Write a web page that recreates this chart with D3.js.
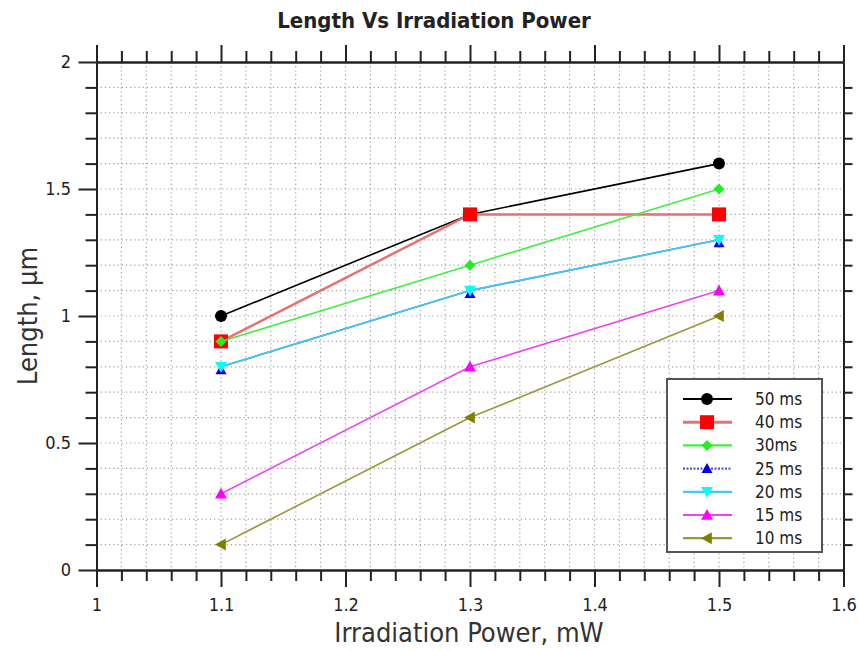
<!DOCTYPE html>
<html><head><meta charset="utf-8">
<script src="https://cdn.jsdelivr.net/npm/d3@7"></script>
<style>body{margin:0;background:#fff}svg{display:block}</style>
</head><body>
<svg id="c" width="859" height="651"></svg>
<script>
const xValues = [1.1, 1.3, 1.5];
const seriesNames = ["50 ms", "40 ms", "30ms", "25 ms", "20 ms", "15 ms", "10 ms"];
const s50 = [1.0, 1.4, 1.6];
const s40 = [0.9, 1.4, 1.4];
const s30 = [0.9, 1.2, 1.5];
const s25 = [0.8, 1.1, 1.3];
const s20 = [0.8, 1.1, 1.3];
const s15 = [0.3, 0.8, 1.1];
const s10 = [0.1, 0.6, 1.0];
const xTickLabels = ["1", "1.1", "1.2", "1.3", "1.4", "1.5", "1.6"];
const yTickLabels = ["0", "0.5", "1", "1.5", "2"];

const seriesValues = [s50, s40, s30, s25, s20, s15, s10];
const lineColors = ["#000000", "#e87070", "#44ee44", "#4a5ad8", "#44ccee", "#ee44ee", "#99993a"];
const markerColors = ["#000000", "#ff0000", "#22ee22", "#0000ee", "#00ffff", "#ff00ff", "#808000"];
const markerTypes = ["circle", "square", "diamond", "triUp", "triDown", "triUp", "triLeft"];

const svg = d3.select("#c");
const L = 96.5, R = 843.5, T = 62, B = 570;
const x = d3.scaleLinear().domain([1, 1.6]).range([L, R]);
const y = d3.scaleLinear().domain([0, 2]).range([B, T]);
const font = "'DejaVu Sans Condensed', 'DejaVu Sans', Verdana, sans-serif";

// grid
const xMinor = d3.range(1, 1.6001, 0.02).map(v => +v.toFixed(2));
const yMinor = d3.range(0, 2.0001, 0.1).map(v => +v.toFixed(1));
const g = svg.append("g");
g.selectAll("line.gx").data(xMinor.filter(v => v > 1 && v < 1.6)).join("line")
  .attr("x1", d => x(d)).attr("x2", d => x(d)).attr("y1", T).attr("y2", B)
  .attr("stroke", "#a0a0a0").attr("stroke-width", 1.2).attr("stroke-dasharray", "1.2,3");
g.selectAll("line.gy").data(yMinor.filter(v => v > 0 && v < 2)).join("line")
  .attr("y1", d => y(d)).attr("y2", d => y(d)).attr("x1", L).attr("x2", R)
  .attr("stroke", "#a0a0a0").attr("stroke-width", 1.2).attr("stroke-dasharray", "1.2,3");

// axes
function styleAxis(sel) {
  sel.selectAll("path").attr("stroke", "#222").attr("stroke-width", 2);
  sel.selectAll("line").attr("stroke", "#222").attr("stroke-width", 2);
  sel.selectAll("text").attr("font-family", font).attr("font-size", 18).attr("fill", "#222");
}
const xMajor = [1, 1.1, 1.2, 1.3, 1.4, 1.5, 1.6];
const yMajor = [0, 0.5, 1, 1.5, 2];
const xMinorOnly = xMinor.filter(v => !xMajor.some(m => Math.abs(m - v) < 1e-6));
const yMinorOnly = yMinor.filter(v => !yMajor.some(m => Math.abs(m - v) < 1e-6));

// bottom
const bx = svg.append("g").attr("transform", `translate(0,${B})`);
bx.call(d3.axisBottom(x).tickValues(xMajor).tickSize(17)
  .tickFormat((d, i) => xTickLabels[i]).tickSizeOuter(0));
bx.append("g").call(d3.axisBottom(x).tickValues(xMinorOnly).tickSize(11).tickFormat("").tickSizeOuter(0));
styleAxis(bx);
bx.selectAll("text").attr("y", 41).attr("dy", 0);
// top
const tx = svg.append("g").attr("transform", `translate(0,${T})`);
tx.call(d3.axisTop(x).tickValues(xMajor).tickSize(17).tickFormat("").tickSizeOuter(0));
tx.append("g").call(d3.axisTop(x).tickValues(xMinorOnly).tickSize(11).tickFormat("").tickSizeOuter(0));
styleAxis(tx);
// left
const ly = svg.append("g").attr("transform", `translate(${L},0)`);
ly.call(d3.axisLeft(y).tickValues(yMajor).tickSize(18).tickPadding(7.5)
  .tickFormat((d, i) => yTickLabels[i]).tickSizeOuter(0));
ly.append("g").call(d3.axisLeft(y).tickValues(yMinorOnly).tickSize(11).tickFormat("").tickSizeOuter(0));
styleAxis(ly);
// right
const ry = svg.append("g").attr("transform", `translate(${R},0)`);
ry.call(d3.axisRight(y).tickValues(yMajor).tickSize(0).tickFormat("").tickSizeOuter(0));
ry.append("g").call(d3.axisRight(y).tickValues(yMinorOnly).tickSize(9).tickFormat("").tickSizeOuter(0));
styleAxis(ry);

// markers
function marker(sel, type, color, s) {
  if (type === "circle") sel.append("circle").attr("r", s / 2).attr("fill", color);
  else if (type === "square") sel.append("rect").attr("x", -s / 2).attr("y", -s / 2)
    .attr("width", s).attr("height", s).attr("fill", color);
  else {
    let pts;
    const h = s / 2;
    if (type === "diamond") pts = [[0, -h], [h, 0], [0, h], [-h, 0]];
    if (type === "triUp") pts = [[0, -h], [h, h * 0.8], [-h, h * 0.8]];
    if (type === "triDown") pts = [[0, h], [h, -h * 0.8], [-h, -h * 0.8]];
    if (type === "triLeft") pts = [[-h, 0], [h * 0.8, -h], [h * 0.8, h]];
    sel.append("polygon").attr("points", pts.map(p => p.join(",")).join(" ")).attr("fill", color);
  }
}
const markerSizes = [12, 14, 11, 11, 12, 12, 12];
const line = d3.line().x((d, i) => x(xValues[i])).y(d => y(d));
seriesValues.forEach((vals, k) => {
  const gg = svg.append("g");
  gg.append("path").datum(vals).attr("d", line).attr("fill", "none")
    .attr("stroke", lineColors[k]).attr("stroke-width", k === 1 ? 2.5 : 1.6);
  vals.forEach((v, i) => {
    const m = gg.append("g").attr("transform", `translate(${x(xValues[i])},${y(v) + (k === 3 ? 3 : 0)})`);
    marker(m, markerTypes[k], markerColors[k], markerSizes[k]);
  });
});

// legend
const lg = svg.append("g");
lg.append("rect").attr("x", 667).attr("y", 379).attr("width", 155).attr("height", 173)
  .attr("fill", "#fff").attr("stroke", "#555").attr("stroke-width", 2);
seriesNames.forEach((n, k) => {
  const yy = 399 + k * 23.2;
  lg.append("line").attr("x1", 683).attr("x2", 732).attr("y1", yy).attr("y2", yy)
    .attr("stroke", lineColors[k]).attr("stroke-width", k === 1 ? 3 : 2.2)
    .attr("stroke-dasharray", k === 3 ? "2,1.5" : null);
  const m = lg.append("g").attr("transform", `translate(707,${yy})`);
  marker(m, markerTypes[k], markerColors[k], markerSizes[k]);
  lg.append("text").attr("x", 755).attr("y", yy + 6).text(n)
    .attr("font-family", font).attr("font-size", 17).attr("fill", "#222");
});

// titles
svg.append("text").attr("x", 434).attr("y", 28).attr("text-anchor", "middle")
  .attr("font-family", font).attr("font-weight", "bold").attr("font-size", 22).attr("fill", "#222")
  .text("Length Vs Irradiation Power");
svg.append("text").attr("x", 469).attr("y", 642).attr("text-anchor", "middle")
  .attr("font-family", font).attr("font-size", 27).attr("fill", "#333")
  .text("Irradiation Power, mW");
svg.append("text").attr("transform", "translate(37,316) rotate(-90)").attr("text-anchor", "middle")
  .attr("font-family", font).attr("font-size", 27).attr("fill", "#333")
  .text("Length, µm");
</script>
</body></html>
